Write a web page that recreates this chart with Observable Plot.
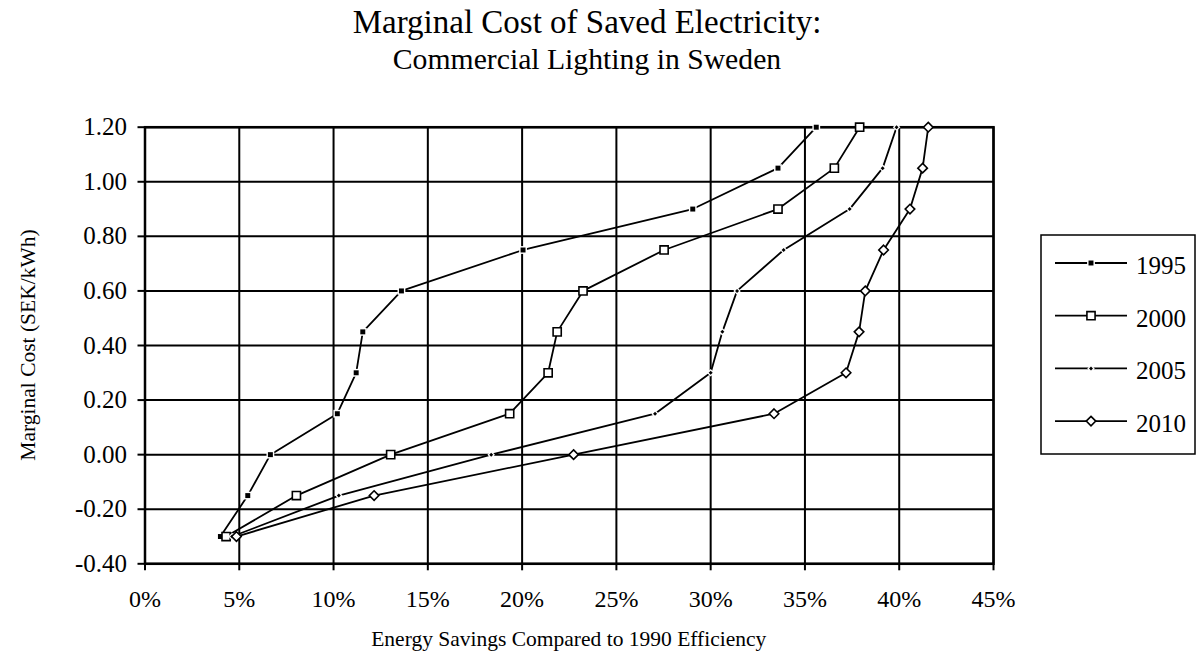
<!DOCTYPE html>
<html><head><meta charset="utf-8">
<script src="https://cdn.jsdelivr.net/npm/d3@7"></script>
<script src="https://cdn.jsdelivr.net/npm/@observablehq/plot@0.6"></script>
<style>
body{margin:0;background:#fff;}
#wrap{position:relative;width:1196px;height:654px;}
</style></head><body><div id="wrap"></div>
<script>
// ---- data ----
const titleText = "Marginal Cost of Saved Electricity:";
const subtitleText = "Commercial Lighting in Sweden";
const xTitle = "Energy Savings Compared to 1990 Efficiency";
const yTitle = "Marginal Cost (SEK/kWh)";
const years = ["1995", "2000", "2005", "2010"];
const costs = [-0.30, -0.15, 0.00, 0.15, 0.30, 0.45, 0.60, 0.75, 0.90, 1.05, 1.20];
const savings1995 = [4.0, 5.45, 6.65, 10.2, 11.2, 11.55, 13.6, 20.05, 29.05, 33.57, 35.6];
const savings2000 = [4.3, 8.03, 13.03, 19.34, 21.38, 21.86, 23.23, 27.53, 33.57, 36.56, 37.9];
const savings2005 = [4.62, 10.28, 18.36, 27.05, 30.0, 30.62, 31.4, 33.87, 37.37, 39.12, 39.86];
const savings2010 = [4.85, 12.15, 22.73, 33.36, 37.18, 37.87, 38.2, 39.17, 40.57, 41.24, 41.54];
const xTicks = [0, 5, 10, 15, 20, 25, 30, 35, 40, 45];
const yTicks = [-0.40, -0.20, 0.00, 0.20, 0.40, 0.60, 0.80, 1.00, 1.20];

// ---- build ----
const seriesValues = [savings1995, savings2000, savings2005, savings2010];
const data = years.flatMap((yr, i) => seriesValues[i].map((s, j) => ({year: yr, saving: s, cost: costs[j]})));

const markerStyle = {
  "1995": {symbol: "square", r: 2.8, fill: "#000", halo: true},
  "2000": {symbol: "square", r: 4.6, fill: "#fff", halo: false},
  "2005": {symbol: "diamond2", r: 1.8, fill: "#000", halo: true},
  "2010": {symbol: "diamond2", r: 4.3, fill: "#fff", halo: false}
};

const FONT = '"Liberation Serif","Times New Roman",Times,serif';
const M = {left: 144.5, right: 203, top: 126.7, bottom: 90.7};
const W = 1196, H = 654;

const dotMarks = years.flatMap(yr => {
  const st = markerStyle[yr];
  const rows = data.filter(d => d.year === yr);
  const out = [];
  if (st.halo) out.push(Plot.dot(rows, {x: "saving", y: "cost", symbol: st.symbol, r: st.r + 1.6, fill: "#fff", stroke: "none"}));
  out.push(Plot.dot(rows, {x: "saving", y: "cost", symbol: st.symbol, r: st.r, fill: st.fill,
    stroke: st.halo ? "none" : "#000", strokeWidth: 1.6}));
  return out;
});

const chart = Plot.plot({
  width: W, height: H,
  marginLeft: M.left, marginRight: M.right, marginTop: M.top, marginBottom: M.bottom,
  style: {fontFamily: FONT, fontSize: "24px", background: "#fff", color: "#000"},
  x: {domain: [0, 45]},
  y: {domain: [-0.4, 1.2]},
  marks: [
    Plot.gridX(xTicks, {stroke: "#000", strokeOpacity: 1, strokeWidth: 2}),
    Plot.gridY(yTicks, {stroke: "#000", strokeOpacity: 1, strokeWidth: 2}),
    Plot.frame({stroke: "#000", strokeWidth: 2.5}),
    Plot.axisX(xTicks, {tickSize: 7, tickPadding: 19, strokeWidth: 2, fontSize: 24, tickFormat: d => d + "%", label: null, fill: "#000"}),
    Plot.axisY(yTicks, {tickSize: 7, tickPadding: 11, strokeWidth: 2, fontSize: 25, tickFormat: d => d.toFixed(2), label: null, fill: "#000"}),
    Plot.line(data, {x: "saving", y: "cost", z: "year", stroke: "#000", strokeWidth: 1.8}),
    ...dotMarks
  ]
});

document.getElementById("wrap").appendChild(chart);

const svg = d3.select(chart);
const addText = (txt, x, y, size, rot) => {
  const t = svg.append("text").text(txt)
    .attr("text-anchor", "middle")
    .attr("font-family", FONT).attr("font-size", size).attr("fill", "#000");
  if (rot) t.attr("transform", `translate(${x},${y}) rotate(-90)`);
  else t.attr("x", x).attr("y", y);
};
addText(titleText, 587, 32.7, 33);
addText(subtitleText, 587, 69.3, 29.7);
addText(xTitle, (M.left + W - M.right) / 2, 646, 21.5);
addText(yTitle, 35, (M.top + H - M.bottom) / 2, 21.5, true);

// legend
const lg = svg.append("g");
lg.append("rect").attr("x", 1041).attr("y", 235).attr("width", 154).attr("height", 219)
  .attr("fill", "#fff").attr("stroke", "#000").attr("stroke-width", 1.5);
const symMap = {square: d3.symbolSquare, diamond2: d3.symbolDiamond2};
years.forEach((yr, i) => {
  const y = 263 + i * 52.7;
  const st = markerStyle[yr];
  lg.append("line").attr("x1", 1055).attr("x2", 1127).attr("y1", y).attr("y2", y)
    .attr("stroke", "#000").attr("stroke-width", 1.8);
  const sym = d3.symbol(symMap[st.symbol], Math.PI * st.r * st.r);
  if (st.halo) {
    lg.append("path").attr("d", d3.symbol(symMap[st.symbol], Math.PI * (st.r + 1.6) ** 2)())
      .attr("transform", `translate(1091,${y})`).attr("fill", "#fff");
  }
  lg.append("path").attr("d", sym()).attr("transform", `translate(1091,${y})`)
    .attr("fill", st.fill).attr("stroke", st.halo ? "none" : "#000").attr("stroke-width", 1.6);
  lg.append("text").text(yr).attr("x", 1136).attr("y", y + 11).attr("text-anchor", "start")
    .attr("font-family", FONT).attr("font-size", 25).attr("fill", "#000");
});
</script></body></html>
